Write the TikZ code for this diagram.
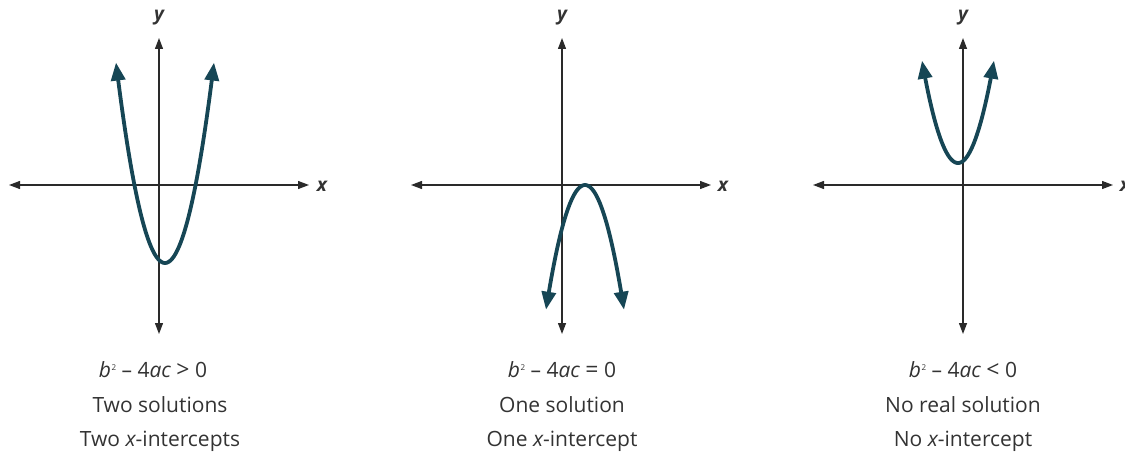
\documentclass[tikz,border=0pt]{standalone}
\usepackage{fontspec}
\setmainfont{Open Sans}
\usetikzlibrary{arrows.meta}
\definecolor{curvecol}{HTML}{164655}
\definecolor{axiscol}{HTML}{2A2A2A}
\definecolor{textcol}{HTML}{333333}
\tikzset{
  axis/.style={draw=axiscol, line width=1.3pt, {Triangle[length=11pt,width=8pt]}-{Triangle[length=11pt,width=8pt]}},
  curve/.style={draw=curvecol, line width=3.8pt, {Triangle[length=18pt,width=14pt]}-{Triangle[length=18pt,width=14pt]}},
  axlabel/.style={text=textcol, font=\fontsize{19}{20}\selectfont\bfseries\itshape, inner sep=0pt},
  caption/.style={text=textcol, font=\fontsize{21}{24}\selectfont, inner sep=0pt, anchor=base}
}
\newcommand{\bsq}{{\itshape b}\kern0.5pt\raisebox{0.55ex}{\fontsize{8}{8}\selectfont 2}}
\newcommand{\disc}[1]{\bsq\ – 4{\itshape ac}\ {\fontsize{23}{24}\selectfont #1}\ 0}
\begin{document}
\begin{tikzpicture}[x=1pt,y=-1pt]
\useasboundingbox (0,0) rectangle (1125,452);
% panel 1
\coordinate (xl1) at (9,185); \coordinate (xr1) at (309,185);
\coordinate (yt1) at (159,38); \coordinate (yb1) at (159,334);
\draw[axis] (xl1) -- (xr1);
\draw[axis] (yb1) -- (yt1);
\node[axlabel] (xlab1) at (322,186) {x};
\node[axlabel] (ylab1) at (159,18) {y};
\draw[curve] plot[domain=-49:49, samples=80] ({165+\x},{263-0.0835*\x*\x});
\node[caption] (eq1) at (153,377) {\disc{>}};
\node[caption] (s1) at (160,412) {Two solutions};
\node[caption] (i1) at (160,446) {Two {\itshape x}-intercepts};
% panel 2
\coordinate (xl2) at (411,185); \coordinate (xr2) at (711,185);
\coordinate (yt2) at (562,38); \coordinate (yb2) at (562,334);
\draw[axis] (xl2) -- (xr2);
\draw[axis] (yb2) -- (yt2);
\node[axlabel] (xlab2) at (723,186) {x};
\node[axlabel] (ylab2) at (562,18) {y};
\draw[curve] plot[domain=-39:39, samples=80] ({585+\x},{185+0.082*\x*\x});
\node[caption] (eq2) at (562,377) {\disc{=}};
\node[caption] (s2) at (562,412) {One solution};
\node[caption] (i2) at (562,446) {One {\itshape x}-intercept};
% panel 3
\coordinate (xl3) at (813,185); \coordinate (xr3) at (1113,185);
\coordinate (yt3) at (963,38); \coordinate (yb3) at (963,334);
\draw[axis] (xl3) -- (xr3);
\draw[axis] (yb3) -- (yt3);
\node[axlabel] (xlab3) at (1125,186) {x};
\node[axlabel] (ylab3) at (963,18) {y};
\draw[curve] plot[domain=-36:36, samples=80] ({958+\x},{163-0.079*\x*\x});
\node[caption] (eq3) at (963,377) {\disc{<}};
\node[caption] (s3) at (963,412) {No real solution};
\node[caption] (i3) at (963,446) {No {\itshape x}-intercept};
\end{tikzpicture}
\end{document}
